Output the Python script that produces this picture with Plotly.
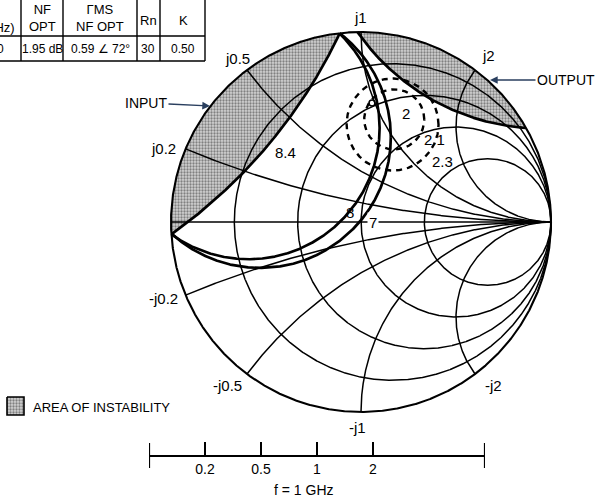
import numpy as np
import plotly.graph_objects as go

W, H = 595, 498
CX, CY, S = 361.0, 222.0, 190.0          # chart centre (px) and radius (px)
FONT = "Liberation Sans, Arial, Helvetica, sans-serif"

# ---------------- data ----------------
resistance_values = [0.2, 0.5, 1, 2]
reactance_values = [0.2, 0.5, 1, 2, -0.2, -0.5, -1, -2]
reactance_labels = ["j0.2", "j0.5", "j1", "j2", "-j0.2", "-j0.5", "-j1", "-j2"]

# stability circles in the reflection plane
stab_names = ["INPUT", "OUTPUT"]
stab_re = [-2.58, 0.953]
stab_im = [2.16, 1.675]
stab_rad = [2.73, 1.183]

# available-gain circles (dB)
gain_labels = ["8", "7"]
gain_re = [-0.593, -0.532]
gain_im = [0.495, 0.447]
gain_rad = [0.691, 0.689]

# noise-figure circles (dB)
nf_labels = ["2.1", "2.3"]
nf_re = [0.175, 0.166]
nf_im = [0.540, 0.513]
nf_rad = [0.158, 0.242]

# marked point
point_re = [0.058]
point_im = [0.626]

# table
table_headers = ["(GHz)", "NF<br>OPT", "ΓMS<br>NF OPT", "Rn", "K"]
table_values = ["1.0", "1.95 dB", "0.59 ∠ 72°", "30", "0.50"]

# resistance scale under the chart
scale_values = [0.2, 0.5, 1, 2]
scale_labels = ["0.2", "0.5", "1", "2"]


# ---------------- helpers ----------------
def px(x, y):
    return (x - CX) / S, (CY - y) / S


def paper(x, y):
    return x / W, 1 - y / H


def gamma(z):
    return (z - 1) / (z + 1)


def circle(cx, cy, r, n=3000):
    t = np.linspace(0, 2 * np.pi, n)
    return cx + r * np.cos(t), cy + r * np.sin(t)


def clip_unit(x, y):
    m = x ** 2 + y ** 2 <= 1.0 + 1e-9
    return np.where(m, x, np.nan), np.where(m, y, np.nan)


def lens(cx, cy, R, n=400):
    d = np.hypot(cx, cy)
    a = (1 - R ** 2 + d ** 2) / (2 * d)
    alpha = np.arccos(a)
    beta = np.arccos((d - a) / R)
    th = np.arctan2(cy, cx) + np.linspace(-alpha, alpha, n)
    ph = np.arctan2(-cy, -cx) + np.linspace(-beta, beta, n)
    xs = np.concatenate([np.cos(th), cx + R * np.cos(ph)])
    ys = np.concatenate([np.sin(th), cy + R * np.sin(ph)])
    return xs, ys


PATTERN = dict(shape=".", fgcolor="#2e2e2e", bgcolor="#d2d2d2",
               size=3, solidity=0.45)

fig = go.Figure()
thin = dict(color="black", width=1.5)
bold = dict(color="black", width=2.7)

# shaded instability areas
for cx, cy, R in zip(stab_re, stab_im, stab_rad):
    xs, ys = lens(cx, cy, R)
    fig.add_trace(go.Scatter(
        x=xs, y=ys, mode="lines", fill="toself", line=dict(width=0),
        fillcolor="rgba(0,0,0,0)", fillpattern=PATTERN,
        hoverinfo="skip", showlegend=False))

# resistance circles
for r in resistance_values:
    xs, ys = circle(r / (1 + r), 0, 1 / (1 + r))
    fig.add_trace(go.Scatter(x=xs, y=ys, mode="lines", line=thin,
                             hoverinfo="skip", showlegend=False))

# reactance arcs
rr = np.concatenate([[0.0], np.logspace(-3, 4.5, 1500)])
for xv in reactance_values:
    g = gamma(rr + 1j * xv)
    fig.add_trace(go.Scatter(x=g.real, y=g.imag, mode="lines", line=thin,
                             hoverinfo="skip", showlegend=False))

# real axis
fig.add_trace(go.Scatter(x=[-1, 1], y=[0, 0], mode="lines", line=thin,
                         hoverinfo="skip", showlegend=False))

# outer circle
xs, ys = circle(0, 0, 1)
fig.add_trace(go.Scatter(x=xs, y=ys, mode="lines",
                         line=dict(color="black", width=2.1),
                         hoverinfo="skip", showlegend=False))

# stability circle boundaries
for cx, cy, R in zip(stab_re, stab_im, stab_rad):
    xs, ys = clip_unit(*circle(cx, cy, R, 8000))
    fig.add_trace(go.Scatter(x=xs, y=ys, mode="lines", line=bold,
                             hoverinfo="skip", showlegend=False))

# gain circles
for cx, cy, R in zip(gain_re, gain_im, gain_rad):
    xs, ys = clip_unit(*circle(cx, cy, R, 4000))
    fig.add_trace(go.Scatter(x=xs, y=ys, mode="lines", line=bold,
                             hoverinfo="skip", showlegend=False))

# noise circles
for cx, cy, R in zip(nf_re, nf_im, nf_rad):
    xs, ys = circle(cx, cy, R, 400)
    fig.add_trace(go.Scatter(x=xs, y=ys, mode="lines",
                             line=dict(color="black", width=2.4, dash="6px,5px"),
                             hoverinfo="skip", showlegend=False))

fig.add_trace(go.Scatter(x=point_re, y=point_im, mode="markers",
                         marker=dict(symbol="circle-open", size=6,
                                     color="black",
                                     line=dict(color="black", width=1.6)),
                         hoverinfo="skip", showlegend=False))

annotations = []


def label(text, x, y, size=15, **kw):
    gx, gy = px(x, y)
    d = dict(text=text, x=gx, y=gy, xref="x", yref="y", showarrow=False,
             xanchor="center", yanchor="middle",
             font=dict(family=FONT, size=size, color="black"))
    d.update(kw)
    annotations.append(d)


# reactance labels
react_label_px = [(163, 148), (237, 58), (360, 17), (488, 55),
                  (163, 298), (227, 385), (357, 427), (493, 385)]
for t, (x, y) in zip(reactance_labels, react_label_px):
    label(t, x, y)

# circle labels
label("8.4", 285, 152)
label(gain_labels[0], 350, 212)
label(gain_labels[1], 373, 222, bgcolor="white", borderpad=1)
label("2", 406, 113)
label(nf_labels[0], 434, 139)
label(nf_labels[1], 442, 161)

# INPUT / OUTPUT arrows
ix, iy = px(210, 106)
annotations.append(dict(text=stab_names[0], x=ix, y=iy, xref="x", yref="y",
                        ax=-64, ay=-3, showarrow=True, arrowhead=2,
                        arrowsize=1.1, arrowwidth=1.4, standoff=0,
                        font=dict(family=FONT, size=14, color="black")))
ox, oy = px(490, 80)
annotations.append(dict(text=stab_names[1], x=ox, y=oy, xref="x", yref="y",
                        ax=76, ay=0, showarrow=True, arrowhead=2,
                        arrowsize=1.1, arrowwidth=1.4, standoff=0,
                        font=dict(family=FONT, size=14, color="black")))

# legend swatch and text
sx0, sy0 = px(7, 397)
sx1, sy1 = px(24, 415)
fig.add_trace(go.Scatter(
    x=[sx0, sx1, sx1, sx0, sx0], y=[sy0, sy0, sy1, sy1, sy0], mode="lines",
    fill="toself", line=dict(color="black", width=1.6),
    fillcolor="rgba(0,0,0,0)", fillpattern=PATTERN,
    hoverinfo="skip", showlegend=False))
label("AREA OF INSTABILITY", 31, 407, size=13, xanchor="left")

# table
shapes = []
line_st = dict(color="black", width=1.4)
for xv in [21, 63, 137, 160, 205]:
    x0, y0 = paper(xv, -2)
    x1, y1 = paper(xv, 61)
    shapes.append(dict(type="line", xref="paper", yref="paper",
                       x0=x0, y0=y0, x1=x1, y1=y1, line=line_st))
for yv in [36, 61]:
    x0, y0 = paper(-2, yv)
    x1, y1 = paper(205, yv)
    shapes.append(dict(type="line", xref="paper", yref="paper",
                       x0=x0, y0=y0, x1=x1, y1=y1, line=line_st))

col_x = [17, 42, 100, 148, 183]
col_anchor = ["right", "center", "center", "center", "center"]
hdr_y = [27, 18, 18, 21, 21]
val_x = [6, 42, 100, 148, 183]
for h, v, cxp, anc, hy, vx in zip(table_headers, table_values, col_x,
                                   col_anchor, hdr_y, val_x):
    hx, hyp = paper(cxp, hy)
    annotations.append(dict(text=h, x=hx, y=hyp, xref="paper", yref="paper",
                            showarrow=False, xanchor=anc, yanchor="middle",
                            font=dict(family=FONT, size=13, color="black")))
    vxp, vyp = paper(vx, 49)
    annotations.append(dict(text=v, x=vxp, y=vyp, xref="paper", yref="paper",
                            showarrow=False, xanchor=anc, yanchor="middle",
                            font=dict(family=FONT, size=12, color="black")))

# resistance scale bar
scale_pos = [gamma(v) for v in scale_values]
fig.add_trace(go.Scatter(x=[-1, -1, None, 1, 1],
                         y=[(H - 443) / 124.5, (H - 468) / 124.5, None,
                            (H - 443) / 124.5, (H - 468) / 124.5],
                         mode="lines", line=dict(color="black", width=2.2),
                         xaxis="x2", yaxis="y2", hoverinfo="skip",
                         showlegend=False))
annotations.append(dict(text="f = 1 GHz", x=(304 - 317) / 168, xref="x2",
                        y=1 - 490 / H, yref="paper", showarrow=False,
                        xanchor="center", yanchor="middle",
                        font=dict(family=FONT, size=14, color="black")))

fig.update_layout(
    width=W, height=H, autosize=False,
    margin=dict(l=0, r=0, t=0, b=0, autoexpand=False),
    paper_bgcolor="white", plot_bgcolor="rgba(0,0,0,0)",
    xaxis=dict(range=[(0 - CX) / S, (W - CX) / S], visible=False,
               domain=[0, 1]),
    yaxis=dict(range=[(CY - H) / S, CY / S], visible=False, domain=[0, 1]),
    xaxis2=dict(domain=[149 / W, 485 / W], range=[-1, 1], anchor="free",
                position=1 - 456 / H, showline=True, linecolor="black",
                linewidth=2.4, ticks="inside", ticklen=13, tickwidth=2,
                tickcolor="black", tickvals=scale_pos, ticktext=scale_labels,
                tickfont=dict(family=FONT, size=14, color="black"),
                showgrid=False, zeroline=False, fixedrange=True),
    yaxis2=dict(domain=[0, 0.25], range=[0, 1], visible=False,
                anchor="free", position=0),
    shapes=shapes,
    annotations=annotations,
    showlegend=False,
)

fig.write_html("out.html",
               config={"displayModeBar": False, "staticPlot": True},
               post_script="document.body.style.margin='0px';"
                           "document.body.style.overflow='hidden';")
